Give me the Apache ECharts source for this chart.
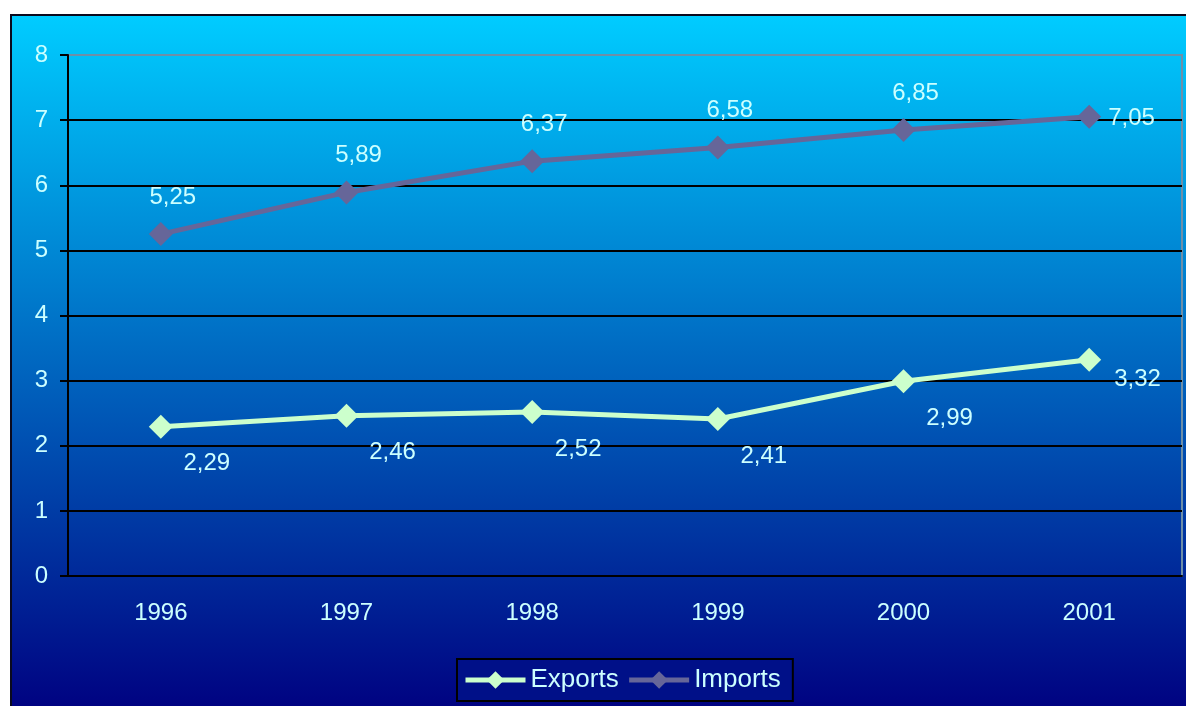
<!DOCTYPE html>
<html>
<head>
<meta charset="utf-8">
<script src="https://cdn.jsdelivr.net/npm/echarts@6/dist/echarts.min.js"></script>
<style>
  html, body { margin: 0; padding: 0; background: #fff; overflow: hidden; }
  #chart {
    position: absolute;
    left: 10px;
    top: 14px;
    width: 1190px;
    height: 700px;
    border: 2px solid #0a0a1e;
  }
</style>
</head>
<body>
<div id="chart"></div>
<script>
const years = ["1996", "1997", "1998", "1999", "2000", "2001"];
const exportsData = [2.29, 2.46, 2.52, 2.41, 2.99, 3.32];
const importsData = [5.25, 5.89, 6.37, 6.58, 6.85, 7.05];

const labelColor = "#ccffff";
const fmt = (p) => p.value.toFixed(2).replace(".", ",");

// last point's label sits to the right of the marker
function withLastRight(values, offset) {
  return values.map((v, i) =>
    i === values.length - 1
      ? { value: v, label: { position: "right", offset: offset } }
      : v
  );
}

const chart = echarts.init(document.getElementById("chart"));

chart.setOption({
  backgroundColor: new echarts.graphic.LinearGradient(0, 0, 0, 1, [
    { offset: 0, color: "#00ccff" },
    { offset: 1, color: "#000080" },
  ]),
  textStyle: { fontFamily: "Liberation Sans, Arial, sans-serif" },
  grid: {
    left: 56,
    top: 39,
    right: 20,
    bottom: 140,
    show: true,
    borderColor: "#6f8fa8",
    borderWidth: 2,
  },
  legend: {
    top: 643,
    left: 445,
    itemWidth: 60,
    itemHeight: 22,
    itemGap: 8,
    padding: [8, 12, 8, 6],
    backgroundColor: "#001088",
    borderColor: "#000000",
    borderWidth: 2,
    lineStyle: { width: 5 },
    textStyle: { color: labelColor, fontSize: 26 },
    data: ["Exports", "Imports"],
  },
  xAxis: {
    type: "category",
    data: years,
    boundaryGap: true,
    axisLine: { lineStyle: { color: "#000", width: 2 } },
    axisTick: { length: 8, lineStyle: { color: "#000", width: 2 } },
    axisLabel: { color: labelColor, fontSize: 24, margin: 25 },
  },
  yAxis: {
    type: "value",
    min: 0,
    max: 8,
    interval: 1,
    axisLine: { show: true, lineStyle: { color: "#000", width: 2 } },
    axisTick: { show: true, length: 8, lineStyle: { color: "#000", width: 2 } },
    axisLabel: { color: labelColor, fontSize: 24, margin: 20 },
    splitLine: {
      lineStyle: {
        color: ["#000", "#000", "#000", "#000", "#000", "#000", "#000", "#000", "#6f8fa8"],
        width: 2,
      },
    },
  },
  series: [
    {
      name: "Exports",
      type: "line",
      data: withLastRight(exportsData, [8, 20]),
      symbol: "diamond",
      symbolSize: 24,
      color: "#ccffcc",
      lineStyle: { width: 5, color: "#ccffcc" },
      label: {
        show: true,
        position: "bottom",
        offset: [46, 8],
        color: labelColor,
        fontSize: 24,
        formatter: fmt,
      },
    },
    {
      name: "Imports",
      type: "line",
      data: withLastRight(importsData, [2, 2]),
      symbol: "diamond",
      symbolSize: 24,
      color: "#666699",
      lineStyle: { width: 5, color: "#666699" },
      label: {
        show: true,
        position: "top",
        offset: [12, -8],
        color: labelColor,
        fontSize: 24,
        formatter: fmt,
      },
    },
  ],
});
</script>
</body>
</html>
